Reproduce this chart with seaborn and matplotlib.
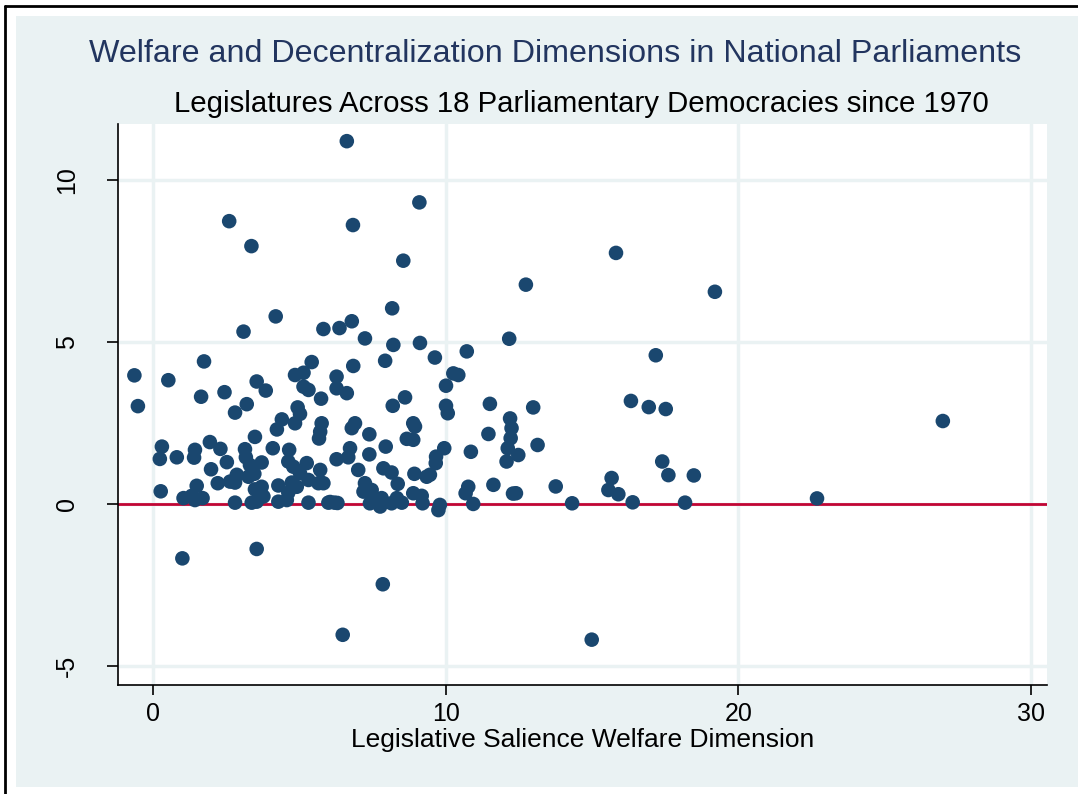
import matplotlib
matplotlib.use("Agg")
import matplotlib.pyplot as plt
import seaborn as sns
import pandas as pd
from matplotlib.patches import Rectangle
from matplotlib.lines import Line2D

# welfare salience (x) and decentralization salience (y)
welfare = [
    -0.64, -0.52, 0.52, 0.30, 0.23, 0.26, 0.81,
    1.00, 1.74, 1.64, 1.43, 1.40, 1.94, 1.98, 1.04, 1.32, 1.49, 1.69, 1.43,
    2.60, 2.44, 2.80, 2.30, 2.52, 2.21, 2.63, 2.86, 2.80, 2.80,
    3.09, 3.36, 3.54, 3.85, 3.20, 3.48, 3.14, 3.17, 3.31, 3.46, 3.71, 3.26,
    3.48, 3.71, 3.77, 3.37, 3.54, 3.54,
    4.19, 4.85, 4.94, 4.40, 4.23, 4.85, 4.09, 4.65, 4.62, 4.79, 4.28, 4.74,
    4.91, 4.62, 4.28, 4.57,
    5.42, 5.14, 5.14, 5.31, 5.74, 5.02, 5.82, 5.76, 5.71, 5.67, 5.25, 5.71,
    5.02, 5.31, 5.65, 5.82, 5.31, 5.99,
    6.62, 6.83, 6.37, 6.79, 6.84, 6.27, 6.27, 6.62, 6.79, 6.90, 6.73, 6.67,
    6.27, 6.05, 6.20, 6.30, 6.48,
    7.24, 7.93, 7.39, 7.95, 7.39, 7.01, 7.87, 7.24, 7.19, 7.47, 7.53, 7.81,
    7.76, 7.41, 7.85,
    8.55, 8.17, 8.21, 8.61, 8.19, 8.89, 8.95, 8.67, 8.89, 8.93, 8.15, 8.36,
    8.15, 8.50, 8.33, 8.89,
    9.10, 9.12, 9.63, 9.18, 9.21, 9.95, 9.67, 9.66, 9.46, 9.35, 9.80, 9.75,
    10.72, 10.26, 10.43, 10.01, 10.01, 10.07, 10.86, 10.77, 10.68, 10.94,
    12.17, 12.74, 11.51, 12.99, 12.20, 12.25, 12.22, 12.12, 12.08, 12.48,
    11.46, 13.14, 11.63, 12.30, 12.40,
    13.76, 14.32, 14.99, 15.82, 15.67, 15.56, 15.90, 16.39, 16.33, 16.94,
    17.52, 17.18, 17.40, 17.61, 18.48, 18.18, 19.20, 22.69, 26.99,
]
decentral = [
    3.97, 3.02, 3.82, 1.77, 1.39, 0.39, 1.44,
    -1.68, 4.40, 3.31, 1.67, 1.43, 1.91, 1.07, 0.18, 0.25, 0.56, 0.18, 0.12,
    8.73, 3.45, 2.82, 1.70, 1.29, 0.64, 0.69, 0.90, 0.66, 0.04,
    5.32, 7.96, 3.78, 3.50, 3.08, 2.07, 1.69, 1.44, 1.20, 0.93, 1.28, 0.84,
    0.45, 0.53, 0.23, 0.04, 0.07, -1.39,
    5.79, 3.98, 2.98, 2.61, 2.30, 2.49, 1.72, 1.67, 1.31, 1.15, 0.57, 0.66,
    0.53, 0.35, 0.07, 0.12,
    4.38, 4.05, 3.62, 3.52, 3.25, 2.78, 5.40, 2.49, 2.23, 2.02, 1.26, 1.05,
    0.95, 0.74, 0.64, 0.64, 0.04, 0.04,
    11.20, 8.61, 5.43, 5.64, 4.26, 3.93, 3.57, 3.42, 2.34, 2.49, 1.72, 1.44,
    1.38, 0.06, 0.04, 0.03, -4.04,
    5.11, 4.42, 2.15, 1.77, 1.53, 1.05, 1.10, 0.64, 0.38, 0.43, 0.12, 0.18,
    -0.08, 0.02, -2.48,
    7.51, 6.04, 4.91, 3.29, 3.03, 2.49, 2.39, 2.01, 1.98, 0.93, 0.97, 0.62,
    0.02, 0.04, 0.18, 0.33,
    9.31, 4.97, 4.52, 0.25, 0.02, 1.72, 1.46, 1.26, 0.90, 0.84, -0.03, -0.19,
    4.71, 4.03, 3.98, 3.65, 3.03, 2.80, 1.61, 0.53, 0.33, 0.00,
    5.10, 6.77, 3.09, 2.98, 2.64, 2.34, 2.03, 1.72, 1.31, 1.51,
    2.16, 1.82, 0.59, 0.32, 0.33,
    0.54, 0.02, -4.19, 7.75, 0.80, 0.43, 0.30, 0.05, 3.18, 2.99,
    2.93, 4.59, 1.31, 0.89, 0.88, 0.04, 6.55, 0.17, 2.56,
]

x_ticks = [0, 10, 20, 30]
y_ticks = [-5, 0, 5, 10]

df = pd.DataFrame({"welfare": welfare, "decentral": decentral})

navy = "#1a476f"
bg = "#eaf2f3"

sns.set_style("white")
plt.rcParams["font.family"] = ["Liberation Sans", "DejaVu Sans"]
plt.rcParams["axes.unicode_minus"] = False

fig = plt.figure(figsize=(10.78, 7.94), dpi=100)
W, H = 1078, 794

# light graph region with a partial black frame
fig.patches.append(Rectangle((16 / W, 1 - 787 / H), 1 - 16 / W, (787 - 16) / H,
                             transform=fig.transFigure, facecolor=bg, edgecolor="none", zorder=-5))
fig.lines.append(Line2D([5 / W, 5 / W], [0, 1 - 6 / H], transform=fig.transFigure, color="black", lw=2, zorder=-4))
fig.lines.append(Line2D([5 / W, 1], [1 - 6 / H, 1 - 6 / H], transform=fig.transFigure, color="black", lw=2, zorder=-4))

ax = fig.add_axes([118 / W, 1 - 685 / H, (1047 - 118) / W, (685 - 124) / H])
ax.set_facecolor("white")

ax.axhline(0, color="#c10534", lw=2, zorder=2)
sns.scatterplot(data=df, x="welfare", y="decentral", ax=ax, color=navy,
                s=110, edgecolor="none", zorder=3, legend=False)

ax.set_xlim(-1.2, 30.55)
ax.set_ylim(-5.59, 11.73)
ax.set_xticks(x_ticks)
ax.set_yticks(y_ticks)
ax.grid(True, color=bg, lw=2.5, zorder=0)
ax.set_axisbelow(True)
for side in ["top", "right"]:
    ax.spines[side].set_visible(False)
for side in ["left", "bottom"]:
    ax.spines[side].set_color("black")
    ax.spines[side].set_linewidth(1.2)
ax.tick_params(axis="x", direction="out", length=7.5, width=1.2, color="black",
               labelcolor="black", labelsize=18, pad=5, bottom=True)
ax.tick_params(axis="y", direction="out", length=8, width=1.2, color="black",
               labelcolor="black", labelsize=18, pad=20, left=True)
plt.setp(ax.get_yticklabels(), rotation=90, va="center")

ax.set_xlabel("Legislative Salience Welfare Dimension", fontsize=19, va="top", color="black")
ax.xaxis.set_label_coords(0.5, -0.077)
ax.set_ylabel("")

fig.text(555 / W, 1 - 54 / H, "Welfare and Decentralization Dimensions in National Parliaments",
         ha="center", va="center", fontsize=23.2, color="#22355f")
fig.text(581 / W, 1 - 104 / H, "Legislatures Across 18 Parliamentary Democracies since 1970",
         ha="center", va="center", fontsize=21.2, color="black")

fig.savefig("out.png", dpi=100)
